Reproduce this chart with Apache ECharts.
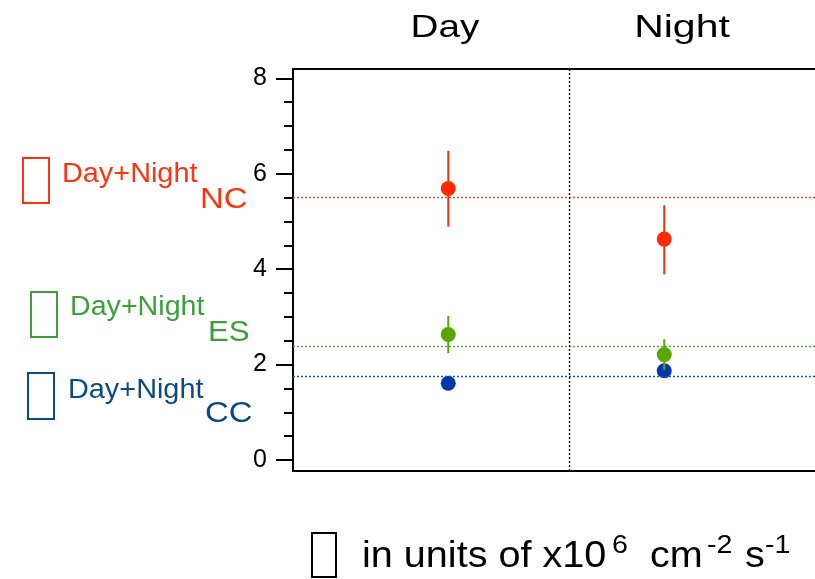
<!DOCTYPE html>
<html>
<head>
<meta charset="utf-8">
<script src="https://cdn.jsdelivr.net/npm/echarts@6/dist/echarts.min.js"></script>
<style>
html,body{margin:0;padding:0;background:#fff;overflow:hidden;}
#chart{width:815px;height:579px;}
</style>
</head>
<body>
<div id="chart"></div>
<script>
// ---- data ----
const periods = ['Day', 'Night'];
const ncMean = [5.69, 4.63];
const ncLow  = [4.89, 3.89];
const ncHigh = [6.48, 5.34];
const esMean = [2.63, 2.21];
const esLow  = [2.24, 1.89];
const esHigh = [3.02, 2.53];
const ccMean = [1.61, 1.87];
const groups = ['NC', 'ES', 'CC'];
const combinedVals = [5.50, 2.38, 1.75];
const yTickLabels = [0, 2, 4, 6, 8];
const yMinorTicks = [0,0.5,1,1.5,2,2.5,3,3.5,4,4.5,5,5.5,6,6.5,7,7.5,8];
const dividerX = 1.56;

// ---- styles ----
const C_RED = '#ff2a00', C_GREEN = '#5aa500', C_BLUE = '#0038aa';
const T_RED = '#ff3311', T_GREEN = '#3c9f3c', T_BLUE = '#0b4a80';
const L_RED = '#ff4422', L_GREEN = '#4caf3c', L_BLUE = '#1a5c9e';
const FONT = '"Liberation Sans", Arial, Helvetica, sans-serif';

const px = i => i + 1;
const pts = arr => arr.map((v, i) => [px(i), v]);
const bars = (lo, hi) => lo.map((v, i) => [px(i), v, hi[i]]);

function errSeries(name, data, color) {
  return {
    type: 'custom', name, z: 3, silent: true,
    data,
    renderItem(params, api) {
      const a = api.coord([api.value(0), api.value(1)]);
      const b = api.coord([api.value(0), api.value(2)]);
      return { type: 'line', shape: { x1: a[0], y1: a[1], x2: b[0], y2: b[1] },
               style: { stroke: color, lineWidth: 2 } };
    }
  };
}

function txt(text, x, y, size, color, scaleX, align) {
  return { type: 'text', x, y, scaleX: scaleX || 1, silent: true,
    style: { text, fill: color, font: size + 'px ' + FONT, textAlign: align || 'left', textVerticalAlign: 'bottom' } };
}
function box(x, y, w, h, color) {
  return { type: 'rect', shape: { x, y, width: w, height: h }, silent: true,
    style: { fill: 'none', stroke: color, lineWidth: 2 } };
}

const lineColors = [L_RED, L_GREEN, L_BLUE];
const frameLine = { show: true, onZero: false, lineStyle: { color: '#000', width: 2 } };
const hidden = { show: false };

const chart = echarts.init(document.getElementById('chart'), null, { renderer: 'canvas' });
chart.setOption({
  animation: false,
  grid: { left: 293, top: 69, right: 0, bottom: 108, show: false },
  xAxis: [
    { type: 'value', position: 'bottom', min: 0.281, max: 2.698, axisLine: frameLine, axisTick: hidden, axisLabel: hidden, splitLine: hidden },
    { type: 'value', position: 'top', min: 0.281, max: 2.698, axisLine: frameLine, axisTick: hidden, axisLabel: hidden, splitLine: hidden }
  ],
  yAxis: [
    { type: 'value', min: -0.23, max: 8.195, position: 'left',
      axisLine: frameLine,
      axisTick: { show: true, inside: false, length: 9, customValues: yMinorTicks, lineStyle: { color: '#000', width: 2 } },
      axisLabel: hidden, splitLine: hidden },
    { type: 'value', min: -0.23, max: 8.195, position: 'left', offset: 0,
      axisLine: { show: false, onZero: false },
      axisTick: { show: true, inside: false, length: 17, customValues: yTickLabels, lineStyle: { color: '#000', width: 2 } },
      axisLabel: { show: true, customValues: yTickLabels, margin: 26, color: '#000', fontSize: 25, fontFamily: FONT },
      splitLine: hidden }
  ],
  series: [
    { type: 'scatter', name: 'CC', z: 2, data: pts(ccMean), symbolSize: 15, itemStyle: { color: C_BLUE, opacity: 1 }, silent: true,
      markLine: { silent: true, symbol: 'none', label: { show: false },
        data: [
          { yAxis: combinedVals[0], lineStyle: { color: lineColors[0], type: [2, 2], width: 1.3 } },
          { yAxis: combinedVals[1], lineStyle: { color: lineColors[1], type: [2, 2], width: 1.3 } },
          { yAxis: combinedVals[2], lineStyle: { color: lineColors[2], type: [2, 2], width: 1.3 } },
          { xAxis: dividerX, lineStyle: { color: '#000', type: [2, 2], width: 1.3 } }
        ] } },
    errSeries('NC err', bars(ncLow, ncHigh), C_RED),
    errSeries('ES err', bars(esLow, esHigh), C_GREEN),
    { type: 'scatter', name: 'NC', z: 4, data: pts(ncMean), symbolSize: 15, itemStyle: { color: C_RED, opacity: 1 }, silent: true },
    { type: 'scatter', name: 'ES', z: 4, data: pts(esMean), symbolSize: 15, itemStyle: { color: C_GREEN, opacity: 1 }, silent: true }
  ],
  graphic: [
    txt(periods[0], 445, 44, 32, '#000', 1.21, 'center'),
    txt(periods[1], 682, 44, 32, '#000', 1.28, 'center'),
    // legend-like labels
    box(23, 158, 26, 45, T_RED),
    txt('Day+Night', 62, 188, 28, T_RED, 1.03),
    txt(groups[0], 200, 215, 30, T_RED, 1.1),
    box(31, 292, 26, 45, T_GREEN),
    txt('Day+Night', 70, 321, 27, T_GREEN, 1.06),
    txt(groups[1], 208, 348, 30, T_GREEN, 1.04),
    box(28, 373, 26, 46, T_BLUE),
    txt('Day+Night', 68, 404, 28, T_BLUE, 1.03),
    txt(groups[2], 205, 429, 30, T_BLUE, 1.1),
    // bottom unit note
    box(312, 533, 24, 44, '#000'),
    txt('in units of x10', 362, 575, 36, '#000', 1.1),
    txt('6', 612, 559, 26, '#000', 1.1),
    txt('cm', 650, 575, 36, '#000', 1.1),
    txt('-2', 707, 559, 26, '#000', 1.1),
    txt('s', 745, 575, 36, '#000', 1.1),
    txt('-1', 765, 559, 26, '#000', 1.1)
  ]
});
</script>
</body>
</html>
